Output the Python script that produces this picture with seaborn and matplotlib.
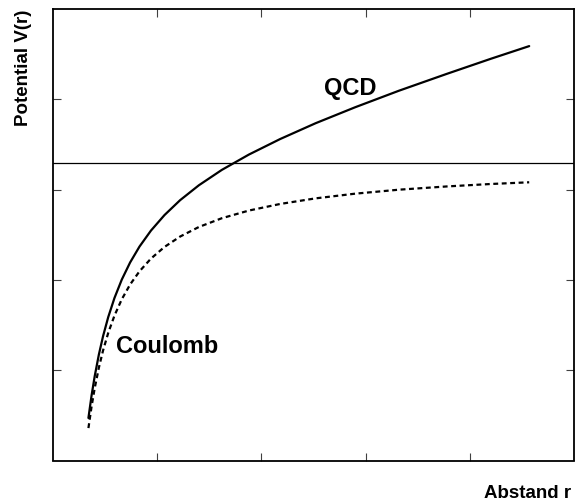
import matplotlib
matplotlib.use("Agg")
import matplotlib.pyplot as plt
import seaborn as sns
import pandas as pd

# Distance r (arbitrary units) and potential values for both models
r = [0.34, 0.37, 0.40, 0.44, 0.48, 0.53, 0.59, 0.66, 0.74, 0.83, 0.94, 1.07,
     1.22, 1.40, 1.62, 1.88, 2.18, 2.52, 2.90, 3.32, 3.78, 4.20, 4.57]
v_coulomb = [-2.941, -2.703, -2.500, -2.273, -2.083, -1.887, -1.695, -1.515,
             -1.351, -1.205, -1.064, -0.935, -0.820, -0.714, -0.617, -0.532,
             -0.459, -0.397, -0.345, -0.301, -0.265, -0.238, -0.219]
v_qcd = [-2.829, -2.581, -2.368, -2.128, -1.925, -1.712, -1.500, -1.297,
         -1.107, -0.931, -0.754, -0.582, -0.417, -0.252, -0.082, 0.088,
         0.260, 0.435, 0.612, 0.795, 0.982, 1.148, 1.289]

x_ticks = [1, 2, 3, 4]
y_ticks = [-2.3, -1.3, -0.3, 0.7]

sns.set_theme(style="white")
plt.rcParams["font.family"] = ["Liberation Sans", "DejaVu Sans"]
plt.rcParams["text.color"] = "black"

df = pd.DataFrame({"r": r, "Coulomb": v_coulomb, "QCD": v_qcd})

fig = plt.figure(figsize=(5.75, 5.01), dpi=100)
ax = fig.add_axes([53 / 575, 40.5 / 501, 521 / 575, 451.5 / 501])

sns.lineplot(data=df, x="r", y="QCD", ax=ax, color="black", lw=1.6)
sns.lineplot(data=df, x="r", y="Coulomb", ax=ax, color="black", lw=1.6,
             linestyle=(0, (2.2, 1.6)))
ax.axhline(0, color="black", lw=0.9)

ax.set_xlim(0, 5)
ax.set_ylim(-3.3, 1.7)
ax.set_xticks(x_ticks)
ax.set_yticks(y_ticks)
ax.set_xticklabels([])
ax.set_yticklabels([])
ax.set_xlabel("")
ax.set_ylabel("")
ax.tick_params(direction="in", length=6, width=0.8, color="0.25",
               top=True, right=True, bottom=True, left=True)
for s in ax.spines.values():
    s.set_color("black")
    s.set_linewidth(1.3)
    s.set_visible(True)

ax.text(2.60, 0.744, "QCD", fontsize=17, fontweight="bold",
        color="black", ha="left", va="baseline")
ax.text(0.605, -2.11, "Coulomb", fontsize=17, fontweight="bold",
        color="black", ha="left", va="baseline")

fig.text(24 / 575, 1 - 10 / 501, "Potential V(r)", rotation=90,
         fontsize=13.5, fontweight="bold", color="black",
         ha="center", va="top")
fig.text(571 / 575, 3.5 / 501, "Abstand r", fontsize=13.5,
         fontweight="bold", color="black", ha="right", va="baseline")

fig.savefig("out.png", dpi=100)
